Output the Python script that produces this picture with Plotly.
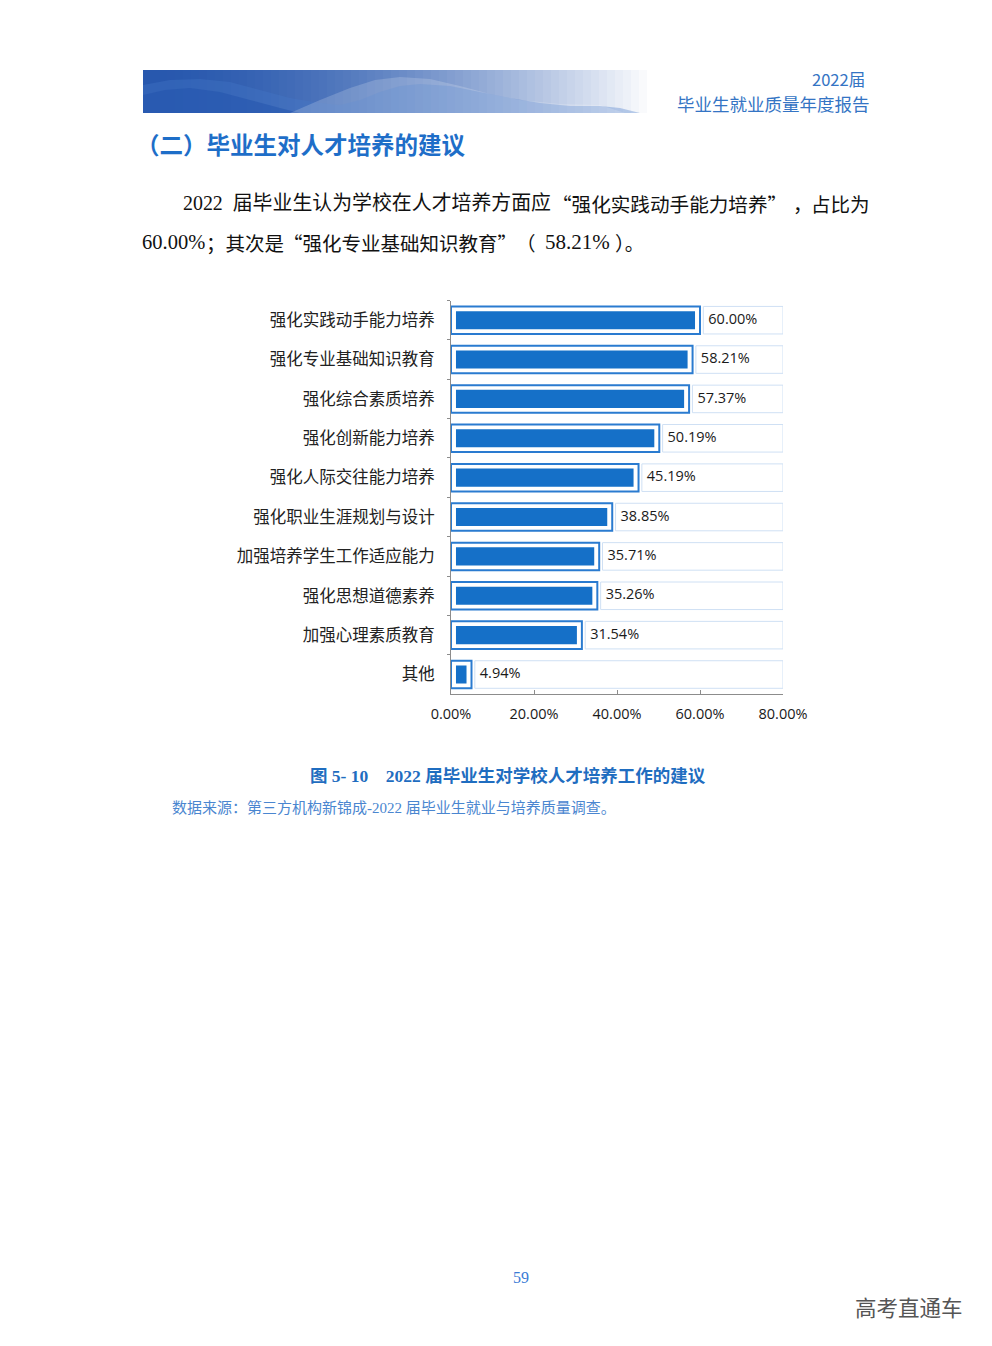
import plotly.graph_objects as go

# ---------------- data ----------------
categories = ["强化实践动手能力培养", "强化专业基础知识教育", "强化综合素质培养", "强化创新能力培养",
              "强化人际交往能力培养", "强化职业生涯规划与设计", "加强培养学生工作适应能力",
              "强化思想道德素养", "加强心理素质教育", "其他"]
values = [60.00, 58.21, 57.37, 50.19, 45.19, 38.85, 35.71, 35.26, 31.54, 4.94]
x_tickvals = [0, 20, 40, 60, 80]
x_ticktext = ["0.00%", "20.00%", "40.00%", "60.00%", "80.00%"]
axis_max = 80

W, H = 992, 1346
OFF = 8  # page body margin offset of the rendered html
def px(x):
    return (x - OFF) / W
def py(y):
    return 1 - (y - OFF) / H

BLUE = "#1570c8"
EDGE = "#2a7bd0"
LIGHT = "#cfe0f4"

inset = 1.2      # visual gap inside the outlined bar (axis units)
gap = 0.8        # gap between bar and label box

fig = go.Figure()

# label boxes (remainder to axis max)
fig.add_trace(go.Bar(
    y=categories, base=[v + gap for v in values], x=[axis_max - v - gap for v in values],
    orientation="h", width=0.70, marker=dict(color="white", line=dict(color=LIGHT, width=1)),
    hoverinfo="skip", cliponaxis=False, showlegend=False))
# outlined bars
fig.add_trace(go.Bar(
    y=categories, x=values, orientation="h", width=0.70,
    marker=dict(color="white", line=dict(color=EDGE, width=2)),
    hoverinfo="skip", cliponaxis=False, showlegend=False))
# inner filled bars
fig.add_trace(go.Bar(
    y=categories, base=[inset] * len(values), x=[v - 2 * inset for v in values],
    orientation="h", width=0.46, marker=dict(color=BLUE, line=dict(width=0)),
    hoverinfo="skip", showlegend=False))
# value labels
fig.add_trace(go.Scatter(
    y=categories, x=[v + 2.0 for v in values], mode="text",
    text=[f"{v:.2f}%" for v in values], textposition="middle right",
    textfont=dict(family="Open Sans, Noto Sans", size=14.5, color="#1a1a1a"),
    hoverinfo="skip", cliponaxis=False, showlegend=False))

fig.update_layout(
    width=W, height=H, autosize=False, margin=dict(l=0, r=0, t=0, b=0, pad=0, autoexpand=False),
    paper_bgcolor="white", plot_bgcolor="white", barmode="overlay",
    xaxis=dict(domain=[px(451), px(783)], range=[0, axis_max], showgrid=False, zeroline=False,
               automargin=False,
               showline=True, linecolor="#8c8c8c", linewidth=1,
               ticks="inside", ticklen=4, tickcolor="#8c8c8c",
               tickvals=x_tickvals, ticktext=x_ticktext, ticklabelstandoff=6,
               tickfont=dict(family="Open Sans, Noto Sans", size=14.5, color="#1a1a1a")),
    yaxis=dict(domain=[py(694.2), py(300.5)], autorange="reversed", showgrid=False, zeroline=False,
               automargin=False,
               showline=True, linecolor="#8c8c8c", linewidth=1,
               ticks="outside", ticklen=3, tickcolor="#8c8c8c", tickson="boundaries",
               ticklabelstandoff=12,
               tickfont=dict(family="Noto Sans CJK SC", size=16.5, color="#222222")),
)

# ---------------- header banner (decoration) ----------------
shapes = []
x0, x1, y0, y1 = 143, 655, 70, 113
n = 64
c0 = (40, 88, 174)
for i in range(n):
    t = i / (n - 1)
    k = t ** 1.7
    col = tuple(int(c0[j] + (255 - c0[j]) * k) for j in range(3))
    xa = x0 + (x1 - x0) * i / n
    xb = x0 + (x1 - x0) * (i + 1) / n + 0.6
    shapes.append(dict(type="rect", xref="paper", yref="paper", x0=px(xa), x1=px(xb),
                       y0=py(y1), y1=py(y0), line=dict(width=0),
                       fillcolor="rgb(%d,%d,%d)" % col, layer="below"))

def path(points):
    s = "M " + " L ".join(f"{px(a):.5f},{py(b):.5f}" for a, b in points) + " Z"
    return s

wave1 = [(143, 113), (143, 85), (170, 80), (200, 79), (230, 82), (260, 90), (290, 98), (320, 103),
         (340, 105), (360, 100), (380, 92), (400, 86), (420, 84), (450, 86), (480, 92), (510, 98),
         (540, 103), (570, 106), (600, 106), (620, 108), (640, 113)]
shapes.append(dict(type="path", xref="paper", yref="paper", path=path(wave1),
                   fillcolor="rgba(70,120,200,0.35)", line=dict(width=0), layer="below"))
wave2 = [(143, 113), (143, 95), (165, 90), (190, 88), (220, 92), (250, 100), (280, 108), (300, 113)]
shapes.append(dict(type="path", xref="paper", yref="paper", path=path(wave2),
                   fillcolor="rgba(30,80,170,0.45)", line=dict(width=0), layer="below"))
wave3 = [(290, 113), (320, 100), (350, 88), (375, 80), (400, 77), (430, 79), (460, 86), (490, 94),
         (520, 100), (560, 104), (600, 105), (625, 113)]
shapes.append(dict(type="path", xref="paper", yref="paper", path=path(wave3),
                   fillcolor="rgba(255,255,255,0.18)", line=dict(width=0), layer="below"))
fig.update_layout(shapes=shapes)

# ---------------- page texts ----------------
def note(text, x, y, size, color, family="Noto Sans CJK SC", anchor="left", weight="normal"):
    fig.add_annotation(text=text, x=px(x), y=py(y), xref="paper", yref="paper",
                       xanchor=anchor, yanchor="middle", showarrow=False,
                       font=dict(family=family, size=size, color=color, weight=weight))

note("2022届", 867, 79, 16.5, "#3474c4", anchor="right")
note("毕业生就业质量年度报告", 872, 104, 17.5, "#3474c4", anchor="right")
note("（二）毕业生对人才培养的建议", 134, 144, 23.5, "#1e6ec8", weight="bold")

serif = "Liberation Serif, Noto Sans CJK SC"
cjk = "Noto Sans CJK SC"
BLACK = "#111111"
# paragraph line 1
note("2022  届毕业生认为学校在人才培养方面应", 181, 203, 19.9, BLACK, family=serif)
note("“强化实践动手能力培养”", 550, 203, 19.6, BLACK, family=cjk)
note("，", 791, 203, 19.5, BLACK, family=cjk)
note("占比为", 872, 203, 19.5, BLACK, family=cjk, anchor="right")
# paragraph line 2
note("60.00%", 140, 242, 20.5, BLACK, family="Liberation Serif")
note("；其次是", 204, 242, 19.5, BLACK, family=cjk)
note("“强化专业基础知识教育”", 281, 242, 19.5, BLACK, family=cjk)
note("（", 514, 242, 19.5, BLACK, family=cjk)
note("58.21%", 543, 242, 21, BLACK, family="Liberation Serif")
note("）。", 613, 242, 19.5, BLACK, family=cjk)

note("图 5- 10    2022 届毕业生对学校人才培养工作的建议", 508, 776, 17.5, "#1f6dc0",
     family=serif, anchor="center", weight="bold")
note("数据来源：第三方机构新锦成-2022 届毕业生就业与培养质量调查。", 170, 807, 15, "#4a86d0",
     family=serif)
note("59", 521, 1277, 16, "#3a7bd5", family="Liberation Serif", anchor="center")
note("高考直通车", 909, 1306, 21.5, "#555555", anchor="center")

fig.write_html("out.html")
